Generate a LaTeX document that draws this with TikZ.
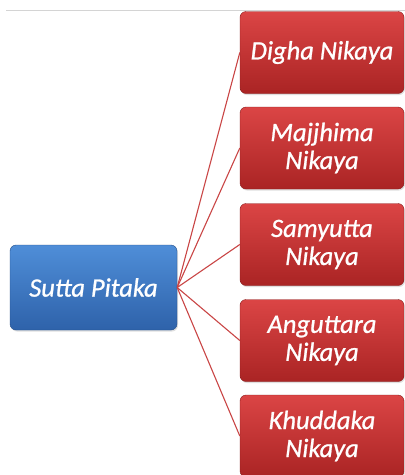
\documentclass[tikz,border=0pt]{standalone}
\usepackage{fontspec}
\setmainfont{Carlito}
\newfontfamily\boxfont[ItalicFeatures={FakeBold=0.9}]{Carlito}
\usetikzlibrary{shadows}
\definecolor{redtop}{HTML}{DB4545}
\definecolor{redbot}{HTML}{AA2424}
\definecolor{bluetop}{HTML}{4F8ED8}
\definecolor{bluebot}{HTML}{2E62AA}
\definecolor{linkred}{HTML}{C94545}
\definecolor{rulegray}{HTML}{D4D4D4}
\begin{document}
\begin{tikzpicture}[x=1pt,y=-1pt,
  box/.style={rounded corners=6pt, align=center, text=white,
    font=\boxfont\itshape\fontsize{26.5}{28}\selectfont, inner sep=0pt,
    drop shadow={opacity=0.25, shadow xshift=1pt, shadow yshift=-1.5pt}},
  redbox/.style={box, top color=redtop, bottom color=redbot, draw=redbot!80!black, line width=0.4pt,
    minimum width=164pt, minimum height=82pt},
  bluebox/.style={box, top color=bluetop, bottom color=bluebot, draw=bluebot!80!black, line width=0.4pt,
    minimum width=167pt, minimum height=85pt},
  link/.style={draw=linkred, line width=1.1pt}]
\useasboundingbox (0,0) rectangle (405,475);
\coordinate (ruleA) at (6,10);
\coordinate (ruleB) at (405,10);
\draw[rulegray, line width=1pt] (ruleA) -- (ruleB);
\node[bluebox] (sp) at (93.5,287.5) {Sutta Pitaka};
\node[redbox] (r1) at (322,52.5) {Digha Nikaya};
\node[redbox] (r2) at (322,148) {Majjhima\\Nikaya};
\node[redbox] (r3) at (322,244.5) {Samyutta\\Nikaya};
\node[redbox] (r4) at (322,340.5) {Anguttara\\Nikaya};
\node[redbox] (r5) at (322,436) {Khuddaka\\Nikaya};
\foreach \r in {r1,r2,r3,r4,r5}
  \draw[link] (sp.east) -- (\r.west);
\end{tikzpicture}
\end{document}
